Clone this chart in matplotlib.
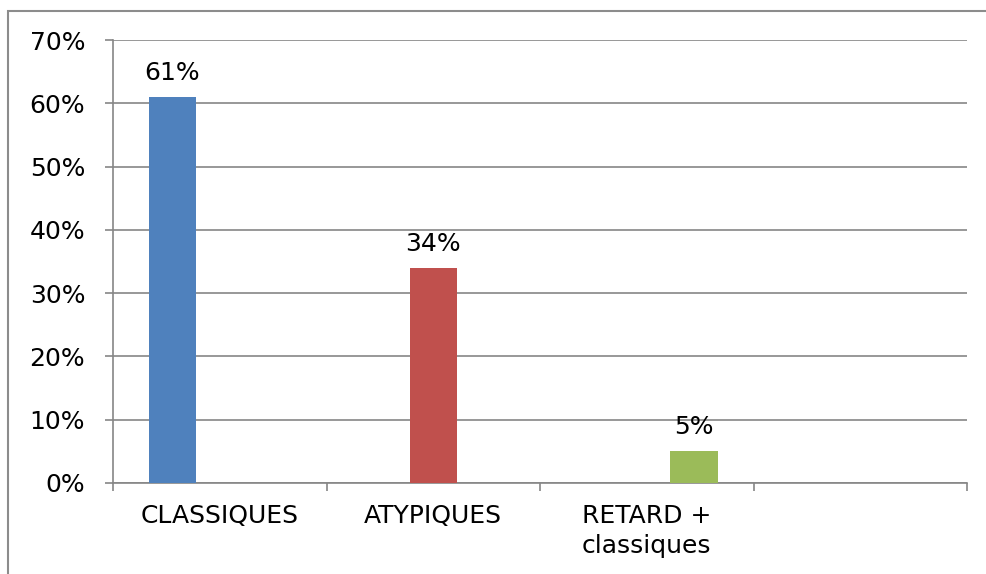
import matplotlib
matplotlib.use("Agg")
import matplotlib.pyplot as plt
from matplotlib.patches import Rectangle
import numpy as np

categories = ["CLASSIQUES", "ATYPIQUES", "RETARD +\nclassiques", ""]
series_values = [
    [0.61, 0, 0, 0],
    [0, 0.34, 0, 0],
    [0, 0, 0.05, 0],
]
series_colors = ["#4F81BD", "#C0504D", "#9BBB59"]
yticks = [0, 0.1, 0.2, 0.3, 0.4, 0.5, 0.6, 0.7]
ytick_labels = ["0%", "10%", "20%", "30%", "40%", "50%", "60%", "70%"]

W, H = 986, 574
fig = plt.figure(figsize=(W / 100, H / 100), dpi=100)
fig.patches.append(Rectangle((8 / W, -0.1), 1.2, (H - 11) / H + 0.1, transform=fig.transFigure,
                             fill=False, edgecolor="#8c8c8c", linewidth=1.5))
ax = fig.add_axes([113 / W, 1 - 483 / H, (967 - 113) / W, (483 - 40) / H])

fs = 18
n = len(series_values)
gap = 1.5
w = 1 / (n + gap)
x = np.arange(len(categories))
for i, (vals, col) in enumerate(zip(series_values, series_colors)):
    pos = x + (i - (n - 1) / 2) * w
    for p, v in zip(pos, vals):
        if v > 0:
            ax.bar(p, v, width=w, color=col, zorder=3)
            ax.text(p, v + 0.019, f"{round(v * 100)}%", ha="center", va="bottom", fontsize=fs, zorder=4)

ax.set_xlim(-0.5, len(categories) - 0.5)
ax.set_ylim(0, 0.7)
ax.set_yticks(yticks)
ax.set_yticklabels(ytick_labels, fontsize=fs)
ax.yaxis.grid(True, color="#868686", linewidth=1.2, zorder=0)
ax.set_axisbelow(True)

ax.set_xticks(x)
ax.set_xticklabels(categories, fontsize=fs, multialignment="center", linespacing=1.3)
ax.set_xticks(np.arange(len(categories) + 1) - 0.5, minor=True)
ax.tick_params(axis="x", which="major", length=0, pad=15)
ax.tick_params(axis="x", which="minor", length=6, color="#868686", width=1.2, direction="out")
ax.tick_params(axis="y", length=6, color="#868686", width=1.2, direction="out", pad=14)

for s in ["top", "right"]:
    ax.spines[s].set_visible(False)
for s in ["left", "bottom"]:
    ax.spines[s].set_color("#868686")
    ax.spines[s].set_linewidth(1.2)

fig.savefig("out.png", dpi=100)
